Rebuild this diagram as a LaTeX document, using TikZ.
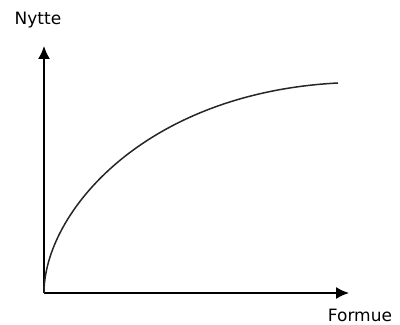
\documentclass[tikz,border=0pt]{standalone}
\usepackage{fontspec}
\setmainfont{DejaVu Sans}
\usetikzlibrary{arrows.meta}
\begin{document}
\begin{tikzpicture}[x=0.5pt,y=-0.5pt,line width=0.75pt,>={Latex[length=6.5pt,width=6pt]}]
\useasboundingbox (0,0) rectangle (400,325);
\coordinate (o) at (44,293);
\coordinate (ytop) at (44,46);
\coordinate (xend) at (349,293);
\coordinate (cend) at (338,83);

\draw[->] (o) -- (ytop);
\draw[->] (o) -- (xend);

\draw[black!85] (o) .. controls (44,213) and (144,93) .. (cend);

\node[font=\fontsize{8.5}{10}\selectfont] (nytte) at (38,20) {Nytte};
\node[font=\fontsize{8.5}{10}\selectfont] (formue) at (360,315) {Formue};
\end{tikzpicture}
\end{document}
